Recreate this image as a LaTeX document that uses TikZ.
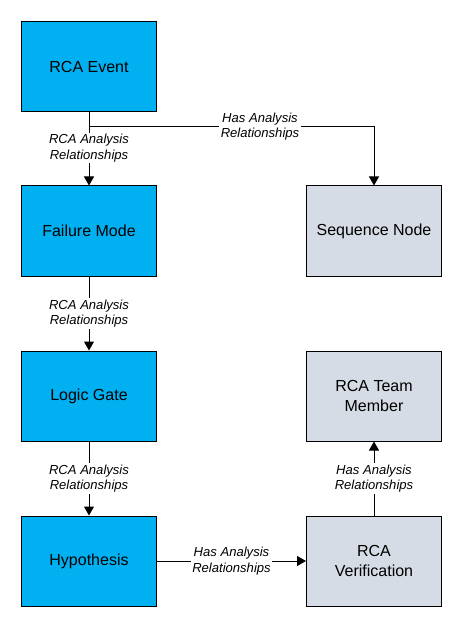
\documentclass[tikz,border=0pt]{standalone}
\usepackage{fontspec}
\setmainfont{Liberation Sans}
\usetikzlibrary{arrows.meta}
\definecolor{boxblue}{HTML}{00B0F0}
\definecolor{boxgray}{HTML}{D6DCE5}
\begin{document}
\begin{tikzpicture}[x=0.75pt,y=-0.75pt,
  entity/.style={draw=black,line width=0.75pt,minimum width=135*0.75pt,minimum height=90*0.75pt,
    inner sep=0pt,align=center,font=\fontsize{12}{15}\selectfont,text=black},
  bluebox/.style={entity,fill=boxblue},
  graybox/.style={entity,fill=boxgray},
  conn/.style={line width=0.75pt,-{Triangle[length=6.75pt,width=7.5pt]}},
  lbl/.style={fill=white,inner sep=1pt,align=center,font=\fontsize{9.8}{11.8}\selectfont\itshape}]
\useasboundingbox (0,0) rectangle (462,627);
\node[bluebox] (event) at (89,66.5) {RCA Event};
\node[bluebox] (fmode) at (89,231) {Failure Mode};
\node[bluebox] (gate) at (89,396) {Logic Gate};
\node[bluebox] (hyp) at (89,561) {Hypothesis};
\node[graybox] (seq) at (374,231) {Sequence Node};
\node[graybox] (team) at (374,396) {RCA Team\\Member};
\node[graybox] (verif) at (374,561) {RCA\\Verification};
\coordinate (branch) at (89,126.5);
\draw[conn] (event) -- node[lbl,pos=0.49] {RCA Analysis\\Relationships} (fmode);
\draw[line width=0.75pt] (branch) -- node[lbl,pos=0.6] {Has Analysis\\Relationships} (branch -| seq.north);
\draw[conn] (branch -| seq.north) -- (seq.north);
\draw[conn] (fmode) -- node[lbl] {RCA Analysis\\Relationships} (gate);
\draw[conn] (gate) -- node[lbl] {RCA Analysis\\Relationships} (hyp);
\draw[conn] (hyp) -- node[lbl] {Has Analysis\\Relationships} (verif);
\draw[conn] (verif) -- node[lbl] {Has Analysis\\Relationships} (team);
\end{tikzpicture}
\end{document}
